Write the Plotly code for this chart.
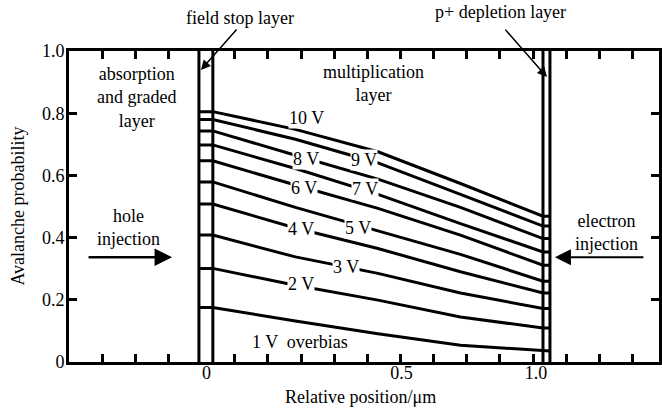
import plotly.graph_objects as go

# ---- data ----
x_um = [0.034, 0.283, 0.532, 0.781, 1.030]          # positions inside multiplication layer
field_stop = [-0.008, 0.034]                         # field stop layer boundaries
p_depletion = [1.030, 1.051]                         # p+ depletion layer boundaries
bias_labels = ["1 V  overbias", "2 V", "3 V", "4 V", "5 V", "6 V", "7 V", "8 V", "9 V", "10 V"]
p_1V = [0.175, 0.132, 0.091, 0.054, 0.035]
p_2V = [0.301, 0.247, 0.199, 0.145, 0.109]
p_3V = [0.408, 0.338, 0.285, 0.222, 0.172]
p_4V = [0.508, 0.431, 0.365, 0.290, 0.222]
p_5V = [0.579, 0.497, 0.421, 0.346, 0.260]
p_6V = [0.647, 0.569, 0.494, 0.408, 0.311]
p_7V = [0.698, 0.622, 0.539, 0.445, 0.354]
p_8V = [0.743, 0.665, 0.588, 0.497, 0.397]
p_9V = [0.780, 0.716, 0.640, 0.539, 0.437]
p_10V = [0.805, 0.748, 0.676, 0.574, 0.469]
series = [p_1V, p_2V, p_3V, p_4V, p_5V, p_6V, p_7V, p_8V, p_9V, p_10V]
# label anchor positions (x, y) for each curve label
label_x = [0.298, 0.301, 0.436, 0.301, 0.472, 0.310, 0.493, 0.316, 0.490, 0.316]
label_y = [0.063, 0.250, 0.305, 0.427, 0.430, 0.561, 0.556, 0.654, 0.649, 0.784]

x_tick_vals = [0.015, 0.603, 1.009]
x_tick_text = ["0", "0.5", "1.0"]
x_minor_vals = [-0.3, -0.2, -0.1, 0.1, 0.2, 0.3, 0.4, 0.5, 0.6, 0.7, 0.8, 0.9, 1.0, 1.1, 1.2, 1.3]
y_tick_vals = [0, 0.2, 0.4, 0.6, 0.8, 1.0]
y_tick_text = ["0", "0.2", "0.4", "0.6", "0.8", "1.0"]

FONT = "'Liberation Serif', 'Times New Roman', 'DejaVu Serif', serif"
FS = 18
F = dict(family=FONT, size=FS, color="black")

fig = go.Figure()

# layer boundary lines
for xb in field_stop + p_depletion:
    fig.add_trace(go.Scatter(x=[xb, xb], y=[0, 1], mode="lines",
                             line=dict(color="black", width=3), showlegend=False,
                             hoverinfo="skip"))

# curves (flat through the thin layers)
for vals in series:
    xs = [field_stop[0]] + x_um + [p_depletion[1]]
    ys = [vals[0]] + vals + [vals[-1]]
    fig.add_trace(go.Scatter(x=xs, y=ys, mode="lines",
                             line=dict(color="black", width=3), showlegend=False))

ann = []
for txt, lx, ly in zip(bias_labels, label_x, label_y):
    ann.append(dict(x=lx, y=ly, xref="x", yref="y", text=txt, showarrow=False,
                    bgcolor="white", borderpad=0, font=F))

texts = [
    ("field stop layer", 0.115, 1.106),
    ("p+ depletion layer", 0.901, 1.126),
    ("absorption<br>and graded<br>layer", -0.197, 0.849),
    ("multiplication<br>layer", 0.520, 0.894),
    ("hole<br>injection", -0.220, 0.434),
    ("electron<br>injection", 1.222, 0.417),
]
for txt, tx, ty in texts:
    ann.append(dict(x=tx, y=ty, xref="x", yref="paper", text=txt, showarrow=False,
                    xanchor="center", yanchor="middle", font=F))

# arrows: (head x, head y, tail dx px, tail dy px, width, size)
arrows = [
    (-0.002, 0.939, 37, -42, 1.5, 1.3),
    (1.042, 0.916, -43, -49, 1.5, 1.3),
    (-0.089, 0.337, -85, 0, 2.5, 1.4),
    (1.066, 0.337, 90, 0, 2.0, 1.6),
]
for hx, hy, dx, dy, w, s in arrows:
    ann.append(dict(x=hx, y=hy, xref="x", yref="paper", ax=dx, ay=dy, text="",
                    showarrow=True, arrowhead=2, arrowsize=s, arrowwidth=w,
                    arrowcolor="black"))

# axis titles
ann.append(dict(x=0.494, y=-0.1125, xref="paper", yref="paper", text="Relative position/μm",
                xanchor="center", yanchor="middle", showarrow=False, font=F))
ann.append(dict(x=-0.088, y=0.5, xref="paper", yref="paper", text="Avalanche probability",
                xanchor="center", yanchor="middle",
                textangle=-90, showarrow=False, font=F))

fig.update_layout(
    width=662, height=413,
    margin=dict(l=69, r=0, t=51, b=51),
    paper_bgcolor="white", plot_bgcolor="white",
    font=F,
    annotations=ann,
    showlegend=False,
)
fig.update_xaxes(range=[-0.4, 1.38], showgrid=False, zeroline=False,
                 showline=True, linecolor="black", linewidth=3, mirror="ticks",
                 tickvals=x_tick_vals, ticktext=x_tick_text, ticks="",
                 ticklabelstandoff=-8,
                 tickfont=F,
                 minor=dict(tickvals=x_minor_vals, ticks="inside", ticklen=8,
                            tickwidth=3, tickcolor="black", showgrid=False))
fig.update_yaxes(range=[0, 1], showgrid=False, zeroline=False,
                 showline=True, linecolor="black", linewidth=3, mirror="ticks",
                 tickvals=y_tick_vals, ticktext=y_tick_text, ticks="inside",
                 ticklen=8, tickwidth=3, tickcolor="black",
                 ticklabelstandoff=-2,
                 tickfont=F)

fig.write_html("out.html",
               config={"displayModeBar": False, "staticPlot": True},
               post_script="document.body.style.margin='0';document.body.style.overflow='hidden';")
